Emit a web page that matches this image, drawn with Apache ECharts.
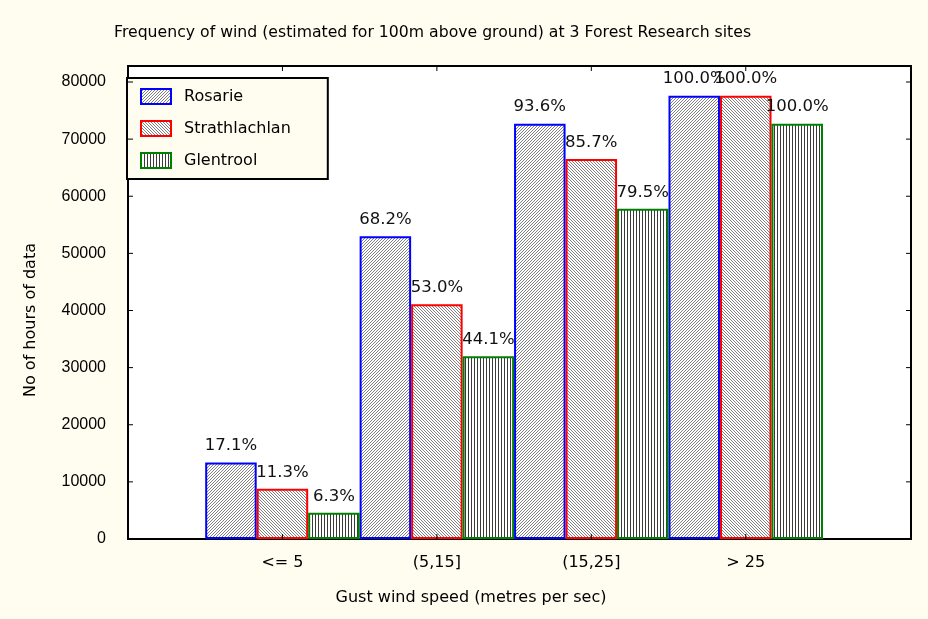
<!DOCTYPE html>
<html>
<head>
<meta charset="utf-8">
<script src="https://cdn.jsdelivr.net/npm/echarts@6/dist/echarts.min.js"></script>
<style>
html, body { margin: 0; padding: 0; background: #fffdf0; }
#main { width: 928px; height: 619px; }
</style>
</head>
<body>
<div id="main"></div>
<script>
// data
var categories = ['<= 5', '(5,15]', '(15,25]', '> 25'];
var seriesNames = ['Rosarie', 'Strathlachlan', 'Glentrool'];
var rosarie = [13400, 53000, 72700, 77600];
var strathlachlan = [8800, 41100, 66500, 77600];
var glentrool = [4600, 32000, 57800, 72700];
var rosariePct = ['17.1%', '68.2%', '93.6%', '100.0%'];
var strathlachlanPct = ['11.3%', '53.0%', '85.7%', '100.0%'];
var glentroolPct = ['6.3%', '44.1%', '79.5%', '100.0%'];
var yTicks = [0, 10000, 20000, 30000, 40000, 50000, 60000, 70000, 80000];

var FONT = 'DejaVu Sans';
var X_MAX = 5.07;
var Y_MAX = 82800;

// hatch patterns for the bars
function hatch(kind) {
	var c = document.createElement('canvas');
	var s = 3;
	c.width = s; c.height = s;
	var g = c.getContext('2d');
	g.fillStyle = '#ffffff';
	g.fillRect(0, 0, s, s);
	g.fillStyle = kind === 'vert' ? '#3a3a3a' : '#808080';
	for (var i = 0; i < s; i++) {
		if (kind === 'vert') g.fillRect(0, i, 1, 1);
		else if (kind === 'up') g.fillRect(s - 1 - i, i, 1, 1);
		else g.fillRect(i, i, 1, 1);
	}
	return { image: c, repeat: 'repeat' };
}

function pts(vals) {
	return vals.map(function (v, i) { return [i + 1, v]; });
}

function makeSeries(name, vals, pcts, pattern, border) {
	return {
		name: name,
		type: 'bar',
		barWidth: 51.5,
		barGap: '0%',
		data: pts(vals),
		itemStyle: { color: pattern, borderColor: border, borderWidth: 2 },
		label: {
			show: true,
			position: 'top',
			distance: 8,
			color: '#111',
			fontFamily: 'DejaVu Sans',
			fontSize: 16.5,
			formatter: function (p) { return pcts[p.dataIndex]; }
		}
	};
}

// inward tick marks on all four sides of the frame
function renderTicks(params, api) {
	var kids = [];
	var L = 5;
	function seg(a, b) {
		kids.push({ type: 'line', shape: { x1: a[0], y1: a[1], x2: b[0], y2: b[1] }, style: { stroke: '#000', lineWidth: 1 } });
	}
	yTicks.forEach(function (v) {
		var l = api.coord([0, v]);
		var r = api.coord([X_MAX, v]);
		seg(l, [l[0] + L, l[1]]);
		seg(r, [r[0] - L, r[1]]);
	});
	categories.forEach(function (c, i) {
		var b = api.coord([i + 1, 0]);
		var t = api.coord([i + 1, Y_MAX]);
		seg(b, [b[0], b[1] - L]);
		seg(t, [t[0], t[1] + L]);
	});
	return { type: 'group', children: kids };
}

var chart = echarts.init(document.getElementById('main'), null, { renderer: 'canvas' });

var option = {
	backgroundColor: '#fffdf0',
	animation: false,
	title: {
		text: 'Frequency of wind (estimated for 100m above ground) at 3 Forest Research sites',
		left: 109,
		top: 20,
		textStyle: { fontFamily: FONT, fontSize: 15.7, fontWeight: 'normal', color: '#000' }
	},
	legend: {
		orient: 'vertical',
		left: 127,
		top: 78,
		icon: 'rect',
		backgroundColor: '#fffdf0',
		borderColor: '#000',
		borderWidth: 2,
		padding: [10, 37, 10, 13],
		itemWidth: 30,
		itemHeight: 15,
		itemGap: 15,
		data: seriesNames,
		textStyle: { fontFamily: FONT, fontSize: 16, color: '#000', padding: [0, 0, 0, 8] }
	},
	grid: {
		left: 128, right: 17, top: 66, bottom: 80,
		show: true,
		backgroundColor: '#ffffff',
		borderColor: '#000',
		borderWidth: 2
	},
	xAxis: [
		{
			type: 'value',
			min: 0, max: X_MAX, interval: 1,
			axisLine: { show: true, lineStyle: { color: '#000', width: 2 } },
			axisTick: { show: false },
			splitLine: { show: false },
			axisLabel: {
				margin: 16,
				fontFamily: FONT, fontSize: 16, color: '#000',
				showMaxLabel: false,
				formatter: function (v) { return categories[v - 1] || ''; }
			}
		}
	],
	yAxis: [
		{
			type: 'value',
			min: yTicks[0], max: Y_MAX, interval: yTicks[1] - yTicks[0],
			axisLine: { show: true, lineStyle: { color: '#000', width: 2 } },
			axisTick: { show: false },
			splitLine: { show: false },
			axisLabel: {
				margin: 22, fontFamily: 'Liberation Sans', fontSize: 16, color: '#000', showMaxLabel: false,
				formatter: function (v) { return String(v); }
			}
		}
	],
	graphic: [
		{
			type: 'text', x: 31, y: 320, rotation: Math.PI / 2,
			style: { text: 'No of hours of data', font: '16px "DejaVu Sans"', fill: '#000', align: 'center', verticalAlign: 'middle' }
		},
		{
			type: 'text', x: 471, y: 598,
			style: { text: 'Gust wind speed (metres per sec)', font: '16px "DejaVu Sans"', fill: '#000', align: 'center', verticalAlign: 'middle' }
		}
	],
	series: [
		makeSeries(seriesNames[0], rosarie, rosariePct, hatch('up'), '#0000ff'),
		makeSeries(seriesNames[1], strathlachlan, strathlachlanPct, hatch('down'), '#ff0000'),
		makeSeries(seriesNames[2], glentrool, glentroolPct, hatch('vert'), '#008000'),
		{
			type: 'custom',
			name: 'ticks',
			silent: true,
			clip: false,
			z: 5,
			data: [[0, 0]],
			renderItem: renderTicks
		}
	]
};
chart.setOption(option);
</script>
</body>
</html>
